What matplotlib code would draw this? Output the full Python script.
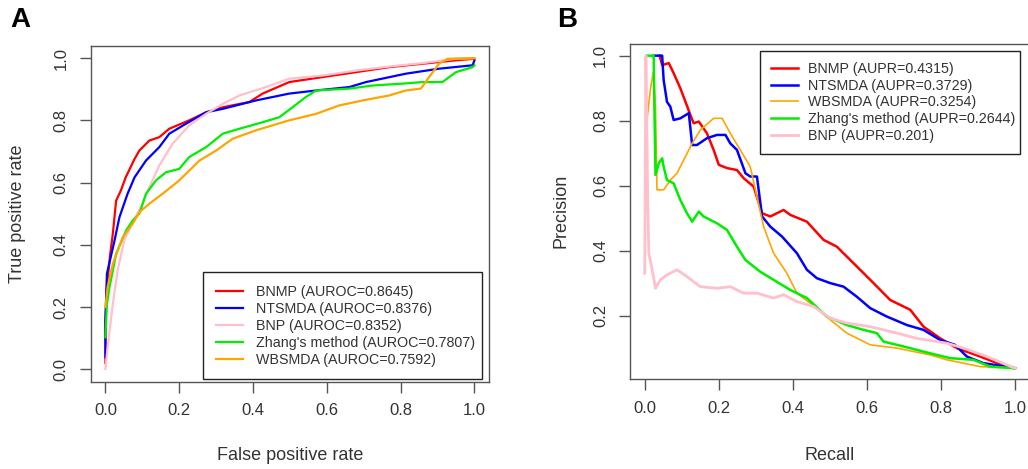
import numpy as np
import matplotlib
matplotlib.use("Agg")
import matplotlib.pyplot as plt

plt.rcParams['font.family'] = ['Liberation Sans', 'DejaVu Sans']

# ROC curves (false positive rate, true positive rate)
roc_bnmp_x = [0.0, 0.0, 0.004, 0.013, 0.02, 0.029, 0.042, 0.055, 0.079, 0.092, 0.119, 0.146, 0.173, 0.227,
              0.273, 0.318, 0.39, 0.426, 0.498, 0.588, 0.679, 0.769, 0.859, 0.95, 1.0]
roc_bnmp_y = [0.02, 0.156, 0.264, 0.371, 0.435, 0.542, 0.575, 0.617, 0.676, 0.703, 0.735, 0.746, 0.773, 0.80,
              0.826, 0.842, 0.859, 0.886, 0.923, 0.939, 0.955, 0.971, 0.982, 0.993, 0.998]

roc_ntsmda_x = [0.0, 0.0, 0.004, 0.024, 0.038, 0.060, 0.079, 0.11, 0.146, 0.173, 0.218, 0.273, 0.318, 0.408,
                0.498, 0.571, 0.661, 0.706, 0.814, 0.904, 0.995, 1.0]
roc_ntsmda_y = [0.039, 0.157, 0.307, 0.410, 0.489, 0.564, 0.617, 0.671, 0.714, 0.757, 0.789, 0.826, 0.837, 0.864,
                0.886, 0.896, 0.907, 0.923, 0.950, 0.966, 0.977, 0.993]

roc_bnp_x = [0.0, 0.006, 0.02, 0.033, 0.051, 0.074, 0.096, 0.119, 0.146, 0.182, 0.227, 0.273, 0.318, 0.363,
             0.435, 0.498, 0.588, 0.679, 0.769, 0.859, 0.95, 1.0]
roc_bnp_y = [0.001, 0.071, 0.21, 0.317, 0.414, 0.473, 0.521, 0.585, 0.655, 0.725, 0.784, 0.821, 0.853, 0.88,
             0.907, 0.934, 0.944, 0.96, 0.973, 0.984, 0.998, 1.0]

roc_zhang_x = [0.0, 0.004, 0.011, 0.029, 0.056, 0.074, 0.092, 0.11, 0.137, 0.164, 0.2, 0.227, 0.273, 0.318,
               0.363, 0.426, 0.471, 0.507, 0.543, 0.571, 0.661, 0.724, 0.805, 0.859, 0.913, 0.95, 0.995, 1.0]
roc_zhang_y = [0.103, 0.21, 0.264, 0.371, 0.446, 0.478, 0.50, 0.564, 0.607, 0.633, 0.644, 0.682, 0.714, 0.757,
               0.773, 0.794, 0.81, 0.842, 0.875, 0.896, 0.902, 0.912, 0.918, 0.923, 0.923, 0.955, 0.971, 0.977]

roc_wbsmda_x = [0.0, 0.006, 0.02, 0.047, 0.074, 0.092, 0.119, 0.155, 0.2, 0.255, 0.3, 0.345, 0.408, 0.498,
                0.571, 0.634, 0.697, 0.769, 0.814, 0.855, 0.877, 0.904, 0.927, 1.0]
roc_wbsmda_y = [0.2, 0.264, 0.339, 0.424, 0.468, 0.505, 0.532, 0.564, 0.607, 0.671, 0.703, 0.741, 0.768, 0.80,
                0.821, 0.848, 0.864, 0.88, 0.896, 0.902, 0.939, 0.982, 0.998, 1.0]

# PR curves (recall, precision)
pr_bnmp_x = [0.04, 0.047, 0.065, 0.078, 0.096, 0.11, 0.123, 0.132, 0.146, 0.168, 0.186, 0.2, 0.222, 0.249,
             0.267, 0.294, 0.317, 0.339, 0.375, 0.393, 0.438, 0.483, 0.519, 0.573, 0.618, 0.663, 0.717, 0.753,
             0.798, 0.843, 0.906, 0.951, 1.0]
pr_bnmp_y = [1.0, 0.971, 0.977, 0.946, 0.9, 0.858, 0.818, 0.792, 0.797, 0.761, 0.71, 0.664, 0.654, 0.648,
             0.623, 0.597, 0.515, 0.505, 0.525, 0.51, 0.489, 0.433, 0.412, 0.351, 0.30, 0.248, 0.218, 0.166,
             0.13, 0.10, 0.074, 0.054, 0.038]

pr_ntsmda_x = [0.024, 0.047, 0.051, 0.06, 0.069, 0.078, 0.096, 0.119, 0.128, 0.141, 0.168, 0.195, 0.218, 0.231,
               0.249, 0.272, 0.285, 0.303, 0.317, 0.339, 0.371, 0.411, 0.438, 0.465, 0.501, 0.537, 0.573,
               0.609, 0.654, 0.708, 0.753, 0.798, 0.838, 0.87, 0.914, 1.0]
pr_ntsmda_y = [1.0, 1.0, 0.925, 0.858, 0.843, 0.802, 0.807, 0.823, 0.725, 0.725, 0.746, 0.756, 0.756, 0.73,
               0.71, 0.638, 0.628, 0.628, 0.505, 0.474, 0.443, 0.392, 0.341, 0.315, 0.30, 0.289, 0.258,
               0.223, 0.197, 0.171, 0.156, 0.125, 0.11, 0.074, 0.054, 0.038]

pr_wbsmda_x = [0.006, 0.015, 0.023, 0.029, 0.033, 0.051, 0.069, 0.087, 0.128, 0.15, 0.186, 0.209, 0.231, 0.258,
               0.285, 0.303, 0.321, 0.348, 0.384, 0.411, 0.447, 0.501, 0.546, 0.609, 0.681, 0.771, 0.816,
               0.906, 1.0]
pr_wbsmda_y = [0.802, 0.894, 0.95, 0.843, 0.587, 0.587, 0.617, 0.638, 0.73, 0.771, 0.807, 0.807, 0.761, 0.71,
               0.658, 0.566, 0.474, 0.392, 0.33, 0.269, 0.238, 0.187, 0.146, 0.11, 0.10, 0.079, 0.064,
               0.043, 0.038]

pr_zhang_x = [0.006, 0.024, 0.026, 0.029, 0.038, 0.047, 0.051, 0.06, 0.078, 0.096, 0.114, 0.128, 0.146, 0.159,
              0.195, 0.222, 0.249, 0.272, 0.312, 0.348, 0.393, 0.438, 0.492, 0.546, 0.591, 0.627, 0.645,
              0.699, 0.771, 0.825, 0.888, 0.933, 1.0]
pr_zhang_y = [1.0, 1.0, 0.843, 0.633, 0.669, 0.684, 0.658, 0.617, 0.607, 0.556, 0.515, 0.489, 0.52, 0.505,
              0.484, 0.464, 0.412, 0.371, 0.335, 0.31, 0.279, 0.254, 0.197, 0.171, 0.156, 0.146, 0.12,
              0.105, 0.084, 0.069, 0.064, 0.043, 0.038]

pr_bnp_x = [0.0, 0.003, 0.006, 0.008, 0.011, 0.02, 0.029, 0.042, 0.06, 0.087, 0.114, 0.15, 0.195, 0.231, 0.267,
            0.303, 0.348, 0.375, 0.411, 0.456, 0.501, 0.546, 0.609, 0.681, 0.735, 0.816, 0.861, 0.924, 1.0]
pr_bnp_y = [0.33, 1.0, 0.75, 0.55, 0.392, 0.341, 0.284, 0.31, 0.325, 0.341, 0.32, 0.289, 0.284, 0.289, 0.269,
            0.269, 0.254, 0.264, 0.243, 0.228, 0.192, 0.177, 0.166, 0.146, 0.13, 0.115, 0.10, 0.074, 0.038]

roc_labels = ["BNMP (AUROC=0.8645)", "NTSMDA (AUROC=0.8376)", "BNP (AUROC=0.8352)",
              "Zhang's method (AUROC=0.7807)", "WBSMDA (AUROC=0.7592)"]
pr_labels = ["BNMP (AUPR=0.4315)", "NTSMDA (AUPR=0.3729)", "WBSMDA (AUPR=0.3254)",
             "Zhang's method (AUPR=0.2644)", "BNP (AUPR=0.201)"]

RED, BLUE, PINK, GREEN, ORANGE = "#ff0000", "#0000ff", "#ffc0cb", "#00ee00", "#ffa500"
TXT = "#333333"

fig = plt.figure(figsize=(10.28, 4.69), dpi=100)
axA = fig.add_axes([0.0882, 0.1862, 0.3877, 0.7164])
axB = fig.add_axes([0.6128, 0.1913, 0.3889, 0.7143])


def style_axis(ax):
    for sp in ax.spines.values():
        sp.set_color("#555555")
        sp.set_linewidth(1.0)
    ax.tick_params(direction="out", length=7.7, width=1.0, color="#555555",
                   labelsize=12, labelcolor=TXT, pad=8)
    for lab in ax.get_yticklabels():
        lab.set_rotation(90)
        lab.set_va("center")


# Panel A: ROC
axA.plot(roc_bnmp_x, roc_bnmp_y, color=RED, lw=1.6, label=roc_labels[0])
axA.plot(roc_ntsmda_x, roc_ntsmda_y, color=BLUE, lw=1.6, label=roc_labels[1])
axA.plot(roc_bnp_x, roc_bnp_y, color=PINK, lw=1.6, label=roc_labels[2])
axA.plot(roc_zhang_x, roc_zhang_y, color=GREEN, lw=1.6, label=roc_labels[3])
axA.plot(roc_wbsmda_x, roc_wbsmda_y, color=ORANGE, lw=1.6, label=roc_labels[4])
axA.set_xlim(-0.04, 1.04)
axA.set_ylim(-0.04, 1.04)
axA.set_xticks([0.0, 0.2, 0.4, 0.6, 0.8, 1.0])
axA.set_yticks([0.0, 0.2, 0.4, 0.6, 0.8, 1.0])
axA.xaxis.set_major_formatter(matplotlib.ticker.FormatStrFormatter("%.1f"))
axA.yaxis.set_major_formatter(matplotlib.ticker.FormatStrFormatter("%.1f"))
style_axis(axA)
legA = axA.legend(loc="upper left", bbox_to_anchor=(0.2825, 0.02, 0.6985, 0.3056), mode="expand",
                  fontsize=10.3, frameon=True, fancybox=False, edgecolor="#222222", framealpha=1,
                  handlelength=1.9, handletextpad=0.9, labelspacing=0.2, borderpad=0.9, borderaxespad=0)
legA.get_frame().set_linewidth(1.0)
for t in legA.get_texts():
    t.set_color(TXT)

# Panel B: PR
axB.plot(pr_bnmp_x, pr_bnmp_y, color=RED, lw=1.8, label=pr_labels[0])
axB.plot(pr_ntsmda_x, pr_ntsmda_y, color=BLUE, lw=1.8, label=pr_labels[1])
axB.plot(pr_wbsmda_x, pr_wbsmda_y, color=ORANGE, lw=1.2, label=pr_labels[2])
axB.plot(pr_zhang_x, pr_zhang_y, color=GREEN, lw=1.8, label=pr_labels[3])
axB.plot(pr_bnp_x, pr_bnp_y, color=PINK, lw=2.0, label=pr_labels[4])
axB.set_xlim(-0.04, 1.04)
axB.set_ylim(0.004, 1.035)
axB.set_xticks([0.0, 0.2, 0.4, 0.6, 0.8, 1.0])
axB.set_yticks([0.2, 0.4, 0.6, 0.8, 1.0])
axB.xaxis.set_major_formatter(matplotlib.ticker.FormatStrFormatter("%.1f"))
axB.yaxis.set_major_formatter(matplotlib.ticker.FormatStrFormatter("%.1f"))
style_axis(axB)
legB = axB.legend(loc="upper left", bbox_to_anchor=(0.3262, 0.98, 0.6503, 0.0), mode="expand",
                  fontsize=10.3, frameon=True, fancybox=False, edgecolor="#222222", framealpha=1,
                  handlelength=1.9, handletextpad=0.7, labelspacing=0.2, borderpad=0.75, borderaxespad=0)
legB.get_frame().set_linewidth(1.0)
for t in legB.get_texts():
    t.set_color(TXT)

# axis titles (centred on each plot box) and panel letters
fig.text(290 / 1028, 1 - 455 / 469, "False positive rate", ha="center", va="center", fontsize=13, color=TXT)
fig.text(18 / 1028, 1 - 214 / 469, "True positive rate", ha="center", va="center", rotation=90,
         fontsize=13, color=TXT)
fig.text(830 / 1028, 1 - 455 / 469, "Recall", ha="center", va="center", fontsize=13, color=TXT)
fig.text(561 / 1028, 1 - 211 / 469, "Precision", ha="center", va="center", rotation=90,
         fontsize=13, color=TXT)
fig.text(20 / 1028, 1 - 20 / 469, "A", ha="center", va="center", fontsize=20, fontweight="bold")
fig.text(567 / 1028, 1 - 20 / 469, "B", ha="center", va="center", fontsize=20, fontweight="bold")

fig.savefig("out.png", dpi=100)
